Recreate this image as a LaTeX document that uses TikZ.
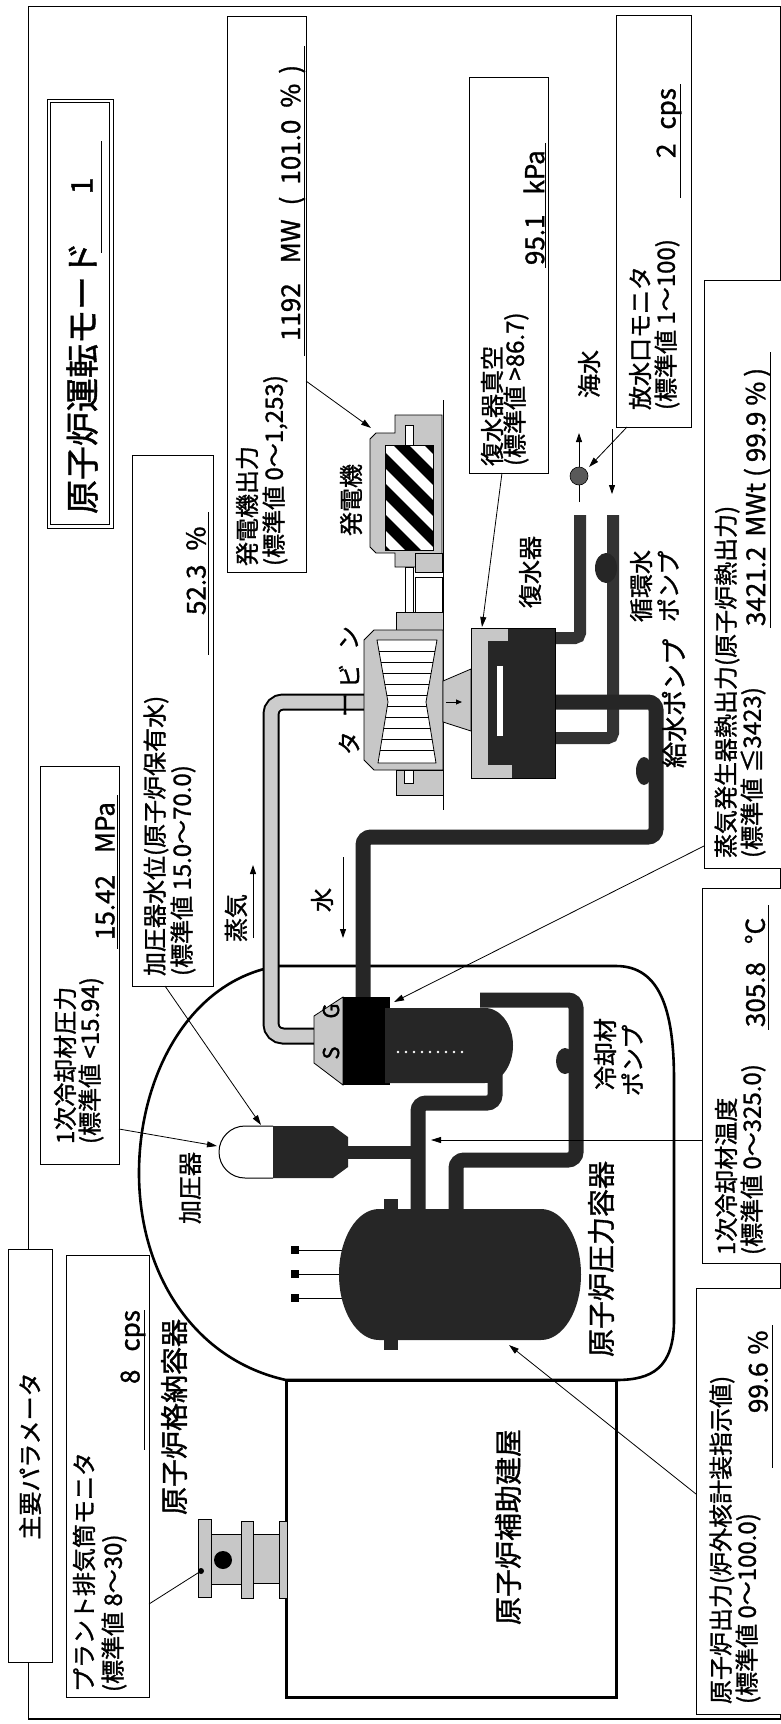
\documentclass[tikz,border=0pt]{standalone}
\usepackage{fontspec}
\setmainfont{Noto Sans CJK JP}[FakeBold=1.2]
\usetikzlibrary{arrows.meta}
\newcommand{\fsz}[1]{\fontsize{#1}{#1}\selectfont}
\begin{document}
\begin{tikzpicture}[x=1pt,y=-1pt,
  every node/.style={inner sep=0pt,outer sep=0pt},
  rt/.style={rotate=90,anchor=west},
  rc/.style={rotate=90},
  t24/.style={font=\fsz{24}},
  t26/.style={font=\fsz{26}},
  t28/.style={font=\fsz{28}},
  val/.style={rotate=90,anchor=west,font=\fsz{26}},
  bx/.style={draw,line width=1pt,fill=white},
  ul/.style={line width=1pt},
  lead/.style={line width=0.8pt,-{Triangle[length=10pt,width=6pt]}},
  bpipe/.style={line width=15pt,draw=black!85,rounded corners=8pt},
  cpipe/.style={line width=12pt,draw=black!80,rounded corners=5pt},
  stip/.style={fill=black!22,draw=black,line width=0.8pt},
  cont/.style={line width=2.6pt}]
\useasboundingbox (0,0) rectangle (780,1724);
\fill[white] (0,0) rectangle (780,1724);
% outer frame
\draw[line width=1.2pt] (28.6,6.6) rectangle (781,1719);

% containment and auxiliary building
\draw[cont] (278,966) -- (616,966) .. controls (660,966) and (674,1010) .. (674,1080)
  -- (674,1320) .. controls (674,1368) and (652,1380) .. (616,1380) -- (286,1380)
  .. controls (195,1360) and (139,1275) .. (139,1173)
  .. controls (139,1075) and (190,980) .. (278,966);
\draw[line width=3pt] (286,1380) rectangle (616,1697);

% floor line under turbine / generator
\draw[line width=1pt] (443,400) -- (443,810);

% ---------- pipes ----------
\draw[cpipe] (580,515) -- (580,638) -- (550,638);
\draw[cpipe] (613,515) -- (613,738) -- (550,738);
\draw[bpipe] (550,702) -- (656,702) -- (656,837) -- (363,837) -- (363,1000);
\draw[bpipe] (418,1215) -- (418,1103) -- (495,1103) -- (495,1075);
\draw[bpipe] (480,1000) -- (576,1000) -- (576,1160) -- (456,1160) -- (456,1215);
\draw[line width=13pt,black!85] (346,1152) -- (418,1152);
\draw[line width=17pt,rounded corners=12pt] (368,702) -- (271,702) -- (271,1036) -- (316,1036);
\draw[line width=13pt,black!20,rounded corners=12pt] (370,702) -- (271,702) -- (271,1036) -- (318,1036);

% ---------- generator ----------
\filldraw[stip] (395,415) -- (442,415) -- (442,567) -- (395,567) -- (395,553) -- (376,553)
  -- (370,547) -- (370,439) -- (376,433) -- (395,433) -- cycle;
\begin{scope}
  \clip (385,445) rectangle (433,550);
  \fill[white] (385,445) rectangle (433,550);
  \foreach \c in {-62,-31,0,31,62,93} \draw[line width=11pt] (370,445+\c) -- (450,525+\c);
\end{scope}
\draw[line width=1pt] (385,445) rectangle (433,550);
\filldraw[fill=white,line width=0.8pt] (405,425) rectangle (413,445);
\filldraw[stip] (415,553) rectangle (442,572);
\filldraw[fill=white,line width=0.8pt] (415,577) rectangle (442,612);
\filldraw[fill=white,line width=0.8pt] (405,567) rectangle (413,641);

% ---------- turbine ----------
\filldraw[stip] (396,612) rectangle (443,630);
\filldraw[stip] (364,640) -- (374,630) -- (443,630) -- (443,770) -- (374,770) -- (364,760) -- cycle;
\filldraw[stip] (396,770) rectangle (443,795);
\filldraw[fill=white,line width=0.8pt] (404,770) rectangle (413,783);
\filldraw[fill=white,line width=0.8pt] (377,640) -- (437,640) -- (426,702) -- (436,763) -- (378,763) -- (388,702) -- cycle;
\begin{scope}
  \clip (377,640) -- (437,640) -- (426,702) -- (436,763) -- (378,763) -- (388,702) -- cycle;
  \foreach \yy in {651,662,673,684,695,706,717,728,739,750} \draw[line width=0.6pt] (370,\yy) -- (440,\yy);
\end{scope}
\filldraw[stip] (443,681) -- (471,669) -- (471,731) -- (443,722) -- cycle;
\draw[line width=1pt,-{Triangle[length=6pt,width=5pt]}] (446,702) -- (462,702);

% ---------- condenser ----------
\fill[black!85] (471,628) rectangle (555,778);
\fill[black!22] (471,628) rectangle (488,778);
\fill[black!22] (471,628) rectangle (508,641);
\fill[black!22] (471,765) rectangle (512,778);
\draw[line width=0.8pt] (471,628) rectangle (555,778);
\fill[white] (497,666) rectangle (503,736);

% ---------- steam generator ----------
\filldraw[stip] (314,1016) -- (343,997) -- (343,1085) -- (314,1063) -- cycle;
\fill[black] (343,997) rectangle (390,1085);
\fill[black!85] (385,1008) -- (485,1008) arc[start angle=-90,end angle=90,x radius=28,y radius=37.5] -- (385,1083) -- cycle;
\foreach \i in {0,...,8} \fill[white] (398+\i*8,1052) circle (1.3);
\node[rc,font=\fsz{22}] (sgS) at (331,1053) {S};
\node[rc,font=\fsz{22}] (sgG) at (331,1011) {G};

% ---------- pressurizer ----------
\filldraw[fill=white,line width=1pt] (273,1126) -- (245,1126) arc[start angle=-90,end angle=-270,radius=26] -- (273,1178);
\fill[black!85] (273,1126) -- (333,1126) -- (348,1137) -- (348,1167) -- (333,1178) -- (273,1178) -- cycle;

% ---------- reactor pressure vessel ----------
\foreach \yy in {1250,1274,1298} {
  \draw[line width=1pt] (295,\yy) -- (350,\yy);
  \fill (291,\yy-4) rectangle (299,\yy+4);
}
\fill[black!85] (384,1199) rectangle (398,1212);
\fill[black!85] (384,1337) rectangle (398,1350);
\fill[black!85] (379,1209) -- (541,1209) arc[start angle=-90,end angle=90,x radius=40,y radius=65.5]
  -- (379,1340) arc[start angle=90,end angle=270,x radius=40,y radius=65.5] -- cycle;

% ---------- pumps ----------
\fill[black!85] (565,1061) ellipse [x radius=9,y radius=13];
\fill[black!85] (644,771) ellipse [x radius=8,y radius=14];
\fill[black!85] (606,568) ellipse [x radius=11,y radius=15];

% ---------- exhaust stack ----------
\filldraw[stip] (198,1519) rectangle (211,1597);
\filldraw[stip] (211,1534) rectangle (241,1584);
\fill (223,1560) circle (9);
\filldraw[stip] (241,1521) rectangle (253,1598);
\filldraw[stip] (253,1534) rectangle (279,1583);
\filldraw[stip] (279,1521) rectangle (287,1598);

% ---------- sea water ----------
\coordinate (sw1a) at (579,502); \coordinate (sw1b) at (579,433);
\draw[line width=0.8pt,-{Triangle[length=9pt,width=6pt]}] (sw1a) -- (sw1b);
\filldraw[fill=black!65,line width=0.6pt] (579,476) circle (9);
\coordinate (sw2a) at (612,429); \coordinate (sw2b) at (612,494);
\draw[line width=0.8pt,-{Triangle[length=9pt,width=6pt]}] (sw2a) -- (sw2b);

% steam / water arrows
\coordinate (stA) at (253,938); \coordinate (stB) at (253,865);
\draw[line width=1pt,-{Triangle[length=9pt,width=6pt]}] (stA) -- (stB);
\coordinate (waA) at (343,857); \coordinate (waB) at (343,938);
\draw[line width=1pt,-{Triangle[length=9pt,width=6pt]}] (waA) -- (waB);

% ---------- boxes ----------
% operation mode
\draw[line width=1pt] (47,99) rectangle (113,528);
\draw[line width=0.8pt] (50.5,102.5) rectangle (109.5,524.5);
\node[rt,font=\fsz{34}] (mode) at (82,514) {原子炉運転モード};
\node[rc,font=\fsz{30}] (modev) at (82,186) {1};
\draw[ul] (101,141) -- (101,253);

% generator output
\draw[bx] (227,16.5) rectangle (306,572);
\node[rt,t24] (genA) at (247,566) {発電機出力};
\node[rt,t24] (genB) at (275,566) {(標準値 0～1,253)};
\node[val] (genV) at (292,341) {1192\hspace{20pt}MW\hspace{14pt}(\hspace{12pt}101.0\hspace{12pt}\%\hspace{10pt})};
\draw[ul] (304,46) -- (304,356);

% pressurizer level
\draw[bx] (132,455) rectangle (213,986);
\node[rt,t24] (plA) at (156,976) {加圧器水位(原子炉保有水)};
\node[rt,t24] (plB) at (183,976) {(標準値 15.0～70.0)};
\node[val] (plV) at (196,615) {52.3\hspace{14pt}\%};
\draw[ul] (208,512) -- (208,655);

% primary coolant pressure
\draw[bx] (40,766) rectangle (119,1164);
\node[rt,t24] (cpA) at (65,1144) {1次冷却材圧力};
\node[rt,t24] (cpB) at (91,1144) {(標準値 <15.94)};
\node[val] (cpV) at (105,940) {15.42\hspace{22pt}MPa};
\draw[ul] (117,795) -- (117,949);

% condenser vacuum
\draw[bx] (469,77) rectangle (548,473);
\node[rt,t24] (cvA) at (492,466) {復水器真空};
\node[rt,t24] (cvB) at (516,466) {(標準値 >86.7)};
\node[val] (cvV) at (534,265) {95.1\hspace{20pt}kPa};
\draw[ul] (545,143) -- (545,268);

% outlet monitor
\draw[bx] (616,15) rectangle (691,427);
\node[rt,t24] (omA) at (640,410) {放水口モニタ};
\node[rt,t24] (omB) at (667,410) {(標準値 1～100)};
\node[val] (omV) at (669,158) {2\hspace{14pt}cps};
\draw[ul] (680,84) -- (680,198);

% SG thermal output
\draw[bx] (704,280) rectangle (782,868);
\node[rt,t24] (sgA) at (727,858) {蒸気発生器熱出力(原子炉熱出力)};
\node[rt,t24] (sgB) at (753,858) {(標準値 ≦3423)};
\node[val] (sgV) at (757,626) {3421.2\hspace{10pt}MWt\hspace{6pt}(\hspace{6pt}99.9\hspace{6pt}\%\hspace{5pt})};
\draw[ul] (770,352) -- (770,628);

% primary coolant temperature
\draw[bx] (702,888) rectangle (782,1263);
\node[rt,t24] (ctA) at (726,1255) {1次冷却材温度};
\node[rt,t24] (ctB) at (753,1255) {(標準値 0～325.0)};
\node[val] (ctV) at (755,1027) {305.8\hspace{18pt}°C};
\draw[ul] (768,905) -- (768,1030);

% reactor power
\draw[bx] (696,1288) rectangle (782,1714);
\node[rt,t24] (rpA) at (722,1704) {原子炉出力(炉外核計装指示値)};
\node[rt,t24] (rpB) at (748,1704) {(標準値 0～100.0)};
\node[val] (rpV) at (758,1413) {99.6\hspace{8pt}\%};
\draw[ul] (772,1325) -- (772,1468);

% plant stack monitor
\draw[bx] (66,1255) rectangle (149,1697);
\node[rt,t24] (psA) at (84,1692) {プラント排気筒モニタ};
\node[rt,t24] (psB) at (114,1692) {(標準値 8～30)};
\node[val] (psV) at (133,1384) {8\hspace{18pt}cps};
\draw[ul] (144,1310) -- (144,1450);

% main parameters
\draw[bx] (8,1249) rectangle (52,1662);
\node[rc,t24] (mainp) at (30,1456) {主要パラメータ};

% ---------- leaders ----------
\coordinate (genL1) at (306,381); \coordinate (genL2) at (371,428);
\draw[lead] (genL1) -- (genL2);
\coordinate (cvL1) at (502,473); \coordinate (cvL2) at (482,627);
\draw[lead] (cvL1) -- (cvL2);
\coordinate (omL1) at (627,427); \coordinate (omL2) at (589,467);
\draw[lead] (omL1) -- (omL2);
\coordinate (sgL1) at (704,846); \coordinate (sgL2) at (394,1002);
\draw[lead] (sgL1) -- (sgL2);
\coordinate (ctL1) at (702,1140); \coordinate (ctL2) at (431,1140);
\draw[lead] (ctL1) -- (ctL2);
\coordinate (rpL1) at (696,1494); \coordinate (rpL2) at (509,1345);
\draw[lead] (rpL1) -- (rpL2);
\coordinate (cpL1) at (119,1129); \coordinate (cpL2) at (217,1146);
\draw[lead] (cpL1) -- (cpL2);
\coordinate (plL1) at (165,986); \coordinate (plL2) at (261,1125);
\draw[lead] (plL1) -- (plL2);
\coordinate (stL1) at (149,1604); \coordinate (stL2) at (201,1571);
\draw[line width=0.8pt] (stL1) -- (stL2);
\fill (stL2) circle (3);

% ---------- labels ----------
\node[rc,t24] (lgen) at (351,500) {発電機};
\node[rc,t24] (lsea) at (589,374) {海水};
\node[rc,t24] (lcond) at (530,572) {復水器};
\node[rt,t24] (lcw1) at (641,622) {循環水};
\node[rt,t24] (lcw2) at (668,622) {ポンプ};
\node[rt,t26] (lfw) at (674,768) {給水ポンプ};
\node[rc,t24] (lt1) at (349,743) {タ};
\node[rc,t24] (lt2) at (349,705) {ー};
\node[rc,t24] (lt3) at (349,676) {ビ};
\node[rc,t24] (lt4) at (349,638) {ン};
\node[rt,t24] (lsteam) at (236,942) {蒸気};
\node[rc,t24] (lwater) at (322,900) {水};
\node[rt,t24] (lrcp1) at (605,1090) {冷却材};
\node[rt,t24] (lrcp2) at (632,1096) {ポンプ};
\node[rt,t24] (lpzr) at (190,1224) {加圧器};
\node[rc,t28] (lcv) at (174,1417) {原子炉格納容器};
\node[rc,t28] (lrpv) at (601,1259) {原子炉圧力容器};
\node[rc,t28] (laux) at (508,1527) {原子炉補助建屋};
\end{tikzpicture}
\end{document}
